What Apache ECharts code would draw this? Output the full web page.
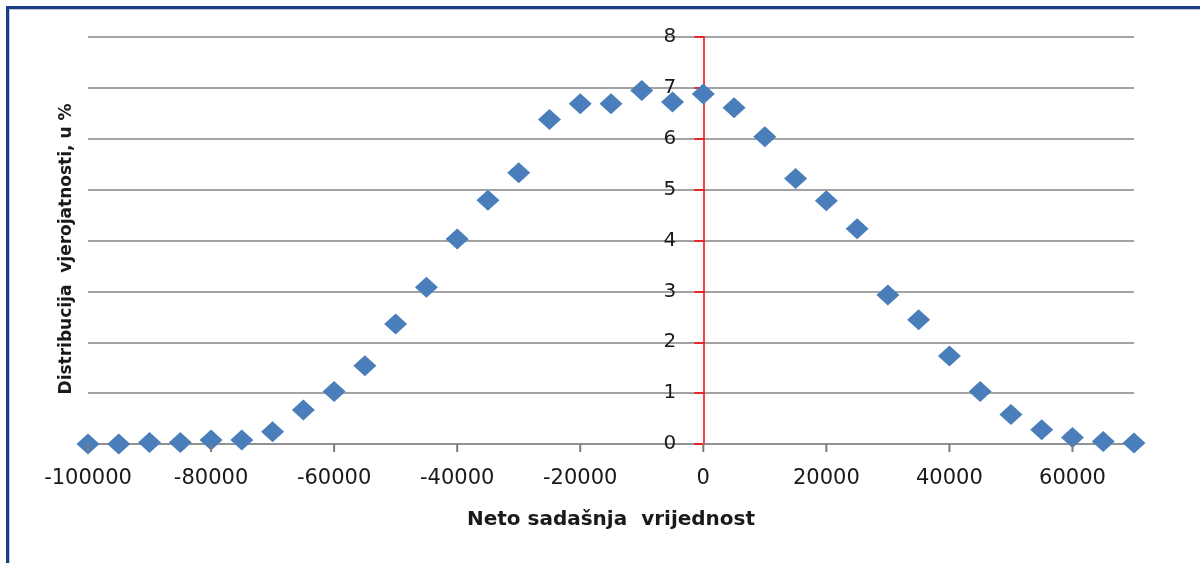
<!DOCTYPE html>
<html>
<head>
<meta charset="utf-8">
<title>Distribucija vjerojatnosti NSV</title>
<script src="https://cdn.jsdelivr.net/npm/echarts@6/dist/echarts.min.js"></script>
<style>
  html, body { margin: 0; padding: 0; background: #ffffff; }
  #chart { width: 1200px; height: 563px; }
</style>
</head>
<body>
<div id="chart"></div>
<script>
// Net present value classes (x) and their probability in percent (y)
const npvValues = [
  -100000, -95000, -90000, -85000, -80000, -75000, -70000, -65000, -60000, -55000,
  -50000, -45000, -40000, -35000, -30000, -25000, -20000, -15000, -10000, -5000,
  0, 5000, 10000, 15000, 20000, 25000, 30000, 35000, 40000, 45000,
  50000, 55000, 60000, 65000, 70000
];
const probabilities = [
  0.00, 0.00, 0.03, 0.03, 0.08, 0.08, 0.24, 0.67, 1.03, 1.54,
  2.36, 3.08, 4.03, 4.79, 5.33, 6.38, 6.69, 6.69, 6.95, 6.72,
  6.88, 6.61, 6.04, 5.22, 4.78, 4.23, 2.93, 2.44, 1.73, 1.03,
  0.58, 0.28, 0.13, 0.05, 0.02
];
const xTickValues = [-100000, -80000, -60000, -40000, -20000, 0, 20000, 40000, 60000];
const xAxisTitle = 'Neto sadašnja  vrijednost';
const yAxisTitle = 'Distribucija  vjerojatnosti, u %';

const xMin = -100000;
const xMax = 70000;
const gridLeft = 88;
const gridRight = 66;
const chartWidth = 1200;

const points = npvValues.map((x, i) => [x, probabilities[i]]);

// The vertical axis sits at NSV = 0; shift it inward from the grid's left edge
const plotWidth = chartWidth - gridLeft - gridRight;
const zeroOffset = (0 - xMin) / (xMax - xMin) * plotWidth;

const chart = echarts.init(document.getElementById('chart'), null, { renderer: 'canvas' });

chart.setOption({
  animation: false,
  backgroundColor: '#ffffff',
  grid: { left: gridLeft, right: gridRight, top: 37, bottom: 119, containLabel: false },
  xAxis: {
    type: 'value',
    min: xMin,
    max: xMax,
    interval: 20000,
    name: xAxisTitle,
    nameLocation: 'middle',
    nameGap: 66,
    nameTextStyle: { fontFamily: 'DejaVu Sans', fontWeight: 'bold', fontSize: 20, color: '#1a1a1a' },
    axisLine: { show: true, onZero: false, lineStyle: { color: '#8c8c8c', width: 1.5 } },
    axisTick: { show: false },
    axisLabel: {
      showMaxLabel: false,
      margin: 24,
      fontFamily: 'DejaVu Sans',
      fontSize: 21,
      color: '#1a1a1a',
      formatter: v => String(v)
    },
    splitLine: { show: false }
  },
  yAxis: {
    type: 'value',
    min: 0,
    max: 8,
    interval: 1,
    position: 'left',
    offset: -zeroOffset,
    axisLine: { show: true, onZero: false, lineStyle: { color: '#ff0000', width: 1.5 } },
    axisTick: { show: true, length: 9, lineStyle: { color: '#ff0000', width: 1.5 } },
    axisLabel: {
      margin: 27,
      fontFamily: 'DejaVu Sans',
      fontSize: 20,
      color: '#1a1a1a',
      formatter: v => String(v)
    },
    splitLine: { show: true, lineStyle: { color: '#a3a3a3', width: 2 } }
  },
  series: [
    {
      // Short downward tick marks under the horizontal axis
      type: 'custom',
      coordinateSystem: 'cartesian2d',
      data: xTickValues.map(v => [v, 0]),
      encode: { x: 0, y: 1 },
      silent: true,
      clip: false,
      z: 6,
      renderItem: (params, api) => {
        const p = api.coord([api.value(0), api.value(1)]);
        return {
          type: 'line',
          shape: { x1: p[0], y1: p[1], x2: p[0], y2: p[1] + 8 },
          style: { stroke: '#7a7a7a', lineWidth: 2 }
        };
      }
    },
    {
      type: 'scatter',
      data: points,
      symbol: 'diamond',
      symbolSize: [23, 21],
      itemStyle: { color: '#4a7ebb', opacity: 1 },
      z: 5
    }
  ],
  graphic: [
    {
      type: 'rect',
      shape: { x: 9, y: 9, width: 1260, height: 660 },
      style: { fill: null, stroke: '#b4b4b4', lineWidth: 1.5 },
      silent: true
    },
    {
      type: 'rect',
      shape: { x: 7.5, y: 7.5, width: 1260, height: 660 },
      style: { fill: null, stroke: '#1c3d8c', lineWidth: 3 },
      silent: true
    },
    {
      type: 'text',
      x: 67,
      y: 249,
      rotation: Math.PI / 2,
      style: {
        text: yAxisTitle,
        fontFamily: 'DejaVu Sans',
        fontWeight: 'bold',
        fontSize: 17,
        fill: '#1a1a1a',
        align: 'center',
        verticalAlign: 'middle'
      },
      silent: true
    }
  ]
});
</script>
</body>
</html>
